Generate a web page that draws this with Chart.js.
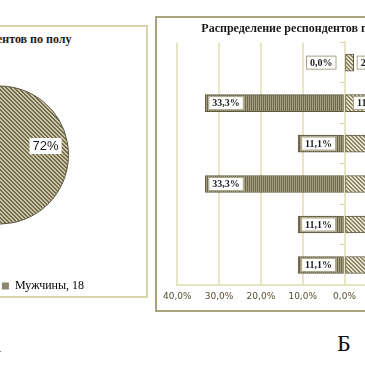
<!DOCTYPE html>
<html>
<head>
<meta charset="utf-8">
<script src="https://cdn.jsdelivr.net/npm/chart.js@4.4.0/dist/chart.umd.min.js"></script>
<style>
  body { margin: 0; width: 365px; height: 365px; overflow: hidden; background: #fff; position: relative; }
  .frame { position: absolute; box-sizing: border-box; }
  #frameA { left: -149px; top: 25px; width: 297px; height: 273px; border: 2px solid #d8d3a8; }
  #frameB { left: 155px; top: 16px; width: 379px; height: 296px; border: 2px solid #a9a27c; }
  #titleA { position: absolute; left: -229px; top: 32px; width: 400px; text-align: center;
            font: bold 12px "Liberation Serif", serif; line-height: 14px; color: #1a1a1a; white-space: nowrap; }
  canvas { position: absolute; }
  #pie { left: -147px; top: 27px; }
  #bars { left: 157px; top: 18px; }
  .tag { position: absolute; font: 24px "Liberation Serif", serif; color: #111; line-height: 24px; }
</style>
</head>
<body>
<div class="frame" id="frameA"></div>
<div class="frame" id="frameB"></div>
<div id="titleA">Распределение респондентов по полу</div>
<canvas id="pie" width="293" height="275"></canvas>
<canvas id="bars" width="375" height="292"></canvas>
<div class="tag" style="right:364px;top:332px">А</div>
<div class="tag" style="left:337px;top:331px">Б</div>
<script>
// диаграмма А: пол
const genders = ['Женщины', 'Мужчины'];
const genderCounts = [7, 18];

// диаграмма Б: доли по группам (левая часть видна целиком, правая обрезана)
const groups = ['Группа 1', 'Группа 2', 'Группа 3', 'Группа 4', 'Группа 5', 'Группа 6'];
const leftShares = [0, 33.3, 11.1, 33.3, 11.1, 11.1];
const rightShares = [2.2, 11.1, 22.2, 22.2, 33.3, 22.2];
const shareTicks = [-40, -30, -20, -10, 0, 10, 20, 30, 40];

const serif = '"Liberation Serif", serif';

function makePattern(size, dark, light, isDark) {
  const c = document.createElement('canvas');
  c.width = size; c.height = size;
  const g = c.getContext('2d');
  for (let y = 0; y < size; y++) {
    for (let x = 0; x < size; x++) {
      g.fillStyle = isDark(x, y) ? dark : light;
      g.fillRect(x, y, 1, 1);
    }
  }
  return g.createPattern(c, 'repeat');
}

const ctxPie = document.getElementById('pie').getContext('2d');
const ctxBars = document.getElementById('bars').getContext('2d');

const pieHatch = makePattern(4, '#726c51', '#cbc5a4', (x, y) => ((x - y + 8) % 4) < 2);
const pieOther = makePattern(4, '#6d674e', '#a39c7e', (x, y) => x % 2 === 0);
const leftStripes = makePattern(2, '#6d674e', '#a59e80', (x, y) => x === 0);
const rightHatch = makePattern(4, '#8c8566', '#e6e2cf', (x, y) => ((x - y + 8) % 4) < 2);

function pct(v) {
  return v.toFixed(1).replace('.', ',') + '%';
}

function labelBox(ctx, text, x, y, padX, h, border) {
  const w = ctx.measureText(text).width + padX * 2;
  ctx.fillStyle = '#fff';
  ctx.fillRect(x, y - h / 2, w, h);
  if (border) {
    ctx.strokeStyle = border;
    ctx.lineWidth = 1;
    ctx.strokeRect(x + 0.5, y - h / 2 + 0.5, w - 1, h - 1);
  }
  ctx.fillStyle = '#1e1e1e';
  ctx.textAlign = 'center';
  ctx.textBaseline = 'middle';
  ctx.fillText(text, x + w / 2, y + 0.5);
}

// подписи долей на круге
const pieLabels = {
  id: 'pieLabels',
  afterDatasetsDraw(chart) {
    const ctx = chart.ctx;
    const total = genderCounts.reduce((a, b) => a + b, 0);
    ctx.save();
    ctx.font = '13px "Liberation Sans", sans-serif';
    chart.getDatasetMeta(0).data.forEach((arc, i) => {
      const mid = (arc.startAngle + arc.endAngle) / 2;
      const r = arc.outerRadius * 0.68;
      const text = Math.round(genderCounts[i] / total * 100) + '%';
      const w = ctx.measureText(text).width + 6;
      const cx = arc.x + Math.cos(mid) * r;
      const cy = arc.y + Math.sin(mid) * r;
      labelBox(ctx, text, cx - w / 2, cy, 3, 16, null);
    });
    ctx.restore();
  }
};

// подписи на полосах
const barLabels = {
  id: 'barLabels',
  afterDatasetsDraw(chart) {
    const ctx = chart.ctx;
    const zero = chart.scales.x.getPixelForValue(0);
    ctx.save();
    ctx.font = 'bold 10px ' + serif;
    chart.data.datasets.forEach((ds, di) => {
      chart.getDatasetMeta(di).data.forEach((bar, i) => {
        const v = Math.abs(ds.data[i]);
        const text = pct(v);
        const w = ctx.measureText(text).width + 8;
        let x;
        if (di === 0) {
          x = v === 0 ? zero - 8 - w : bar.x + 3;
        } else {
          x = (bar.x - zero) < w + 8 ? bar.x + 3 : bar.x - 3 - w;
        }
        labelBox(ctx, text, x, bar.y, 4, 14, '#a9a384');
      });
    });
    ctx.restore();
  }
};

new Chart(ctxPie, {
  type: 'pie',
  data: {
    labels: genders,
    datasets: [{
      data: genderCounts,
      backgroundColor: [pieOther, pieHatch],
      borderColor: '#5c563e',
      borderWidth: 1,
      radius: 69
    }]
  },
  plugins: [pieLabels],
  options: {
    responsive: false,
    animation: false,
    rotation: 259.2 - 50.6,
    layout: { padding: { top: 13 } },
    plugins: {
      legend: {
        position: 'bottom',
        labels: {
          boxWidth: 7,
          boxHeight: 7,
          padding: 10,
          color: '#2b2b2b',
          font: { family: serif, size: 12 },
          generateLabels: () => genders.map((g, i) => ({
            text: g + ', ' + genderCounts[i],
            fillStyle: '#8d886c',
            strokeStyle: '#8d886c',
            lineWidth: 0,
            hidden: false,
            index: i
          }))
        }
      },
      tooltip: { enabled: false }
    }
  }
});

new Chart(ctxBars, {
  type: 'bar',
  data: {
    labels: groups,
    datasets: [{
      data: leftShares.map(v => -v),
      backgroundColor: leftStripes,
      borderColor: '#5f5940',
      borderWidth: 1,
      borderSkipped: false,
      barThickness: 17
    }, {
      data: rightShares,
      backgroundColor: rightHatch,
      borderColor: '#5f5940',
      borderWidth: 1,
      borderSkipped: false,
      barThickness: 17
    }]
  },
  plugins: [barLabels],
  options: {
    indexAxis: 'y',
    responsive: false,
    animation: false,
    layout: { padding: { left: 20, right: 19, top: 0, bottom: 2 } },
    scales: {
      x: {
        stacked: true,
        min: -40,
        max: 40,
        afterBuildTicks: axis => { axis.ticks = shareTicks.map(v => ({ value: v })); },
        grid: { color: '#e9e5c4', lineWidth: 2, drawTicks: false },
        border: { display: true, color: '#e9e5c4', width: 2 },
        ticks: {
          padding: 6,
          color: '#574f31',
          font: { family: '"DejaVu Sans", sans-serif', size: 9 },
          callback: v => pct(Math.abs(v))
        }
      },
      y: {
        stacked: true,
        position: { x: 0 },
        grid: { drawOnChartArea: false, color: '#d9d4ab', tickLength: 4, offset: true },
        border: { display: true, color: '#e9e5c4', width: 2 },
        ticks: { display: false }
      }
    },
    plugins: {
      title: {
        display: true,
        text: 'Распределение респондентов по уровню образования',
        color: '#1a1a1a',
        font: { family: serif, size: 12, weight: 'bold' },
        padding: { top: 4, bottom: 6 }
      },
      legend: { display: false },
      tooltip: { enabled: false }
    }
  }
});
</script>
</body>
</html>
